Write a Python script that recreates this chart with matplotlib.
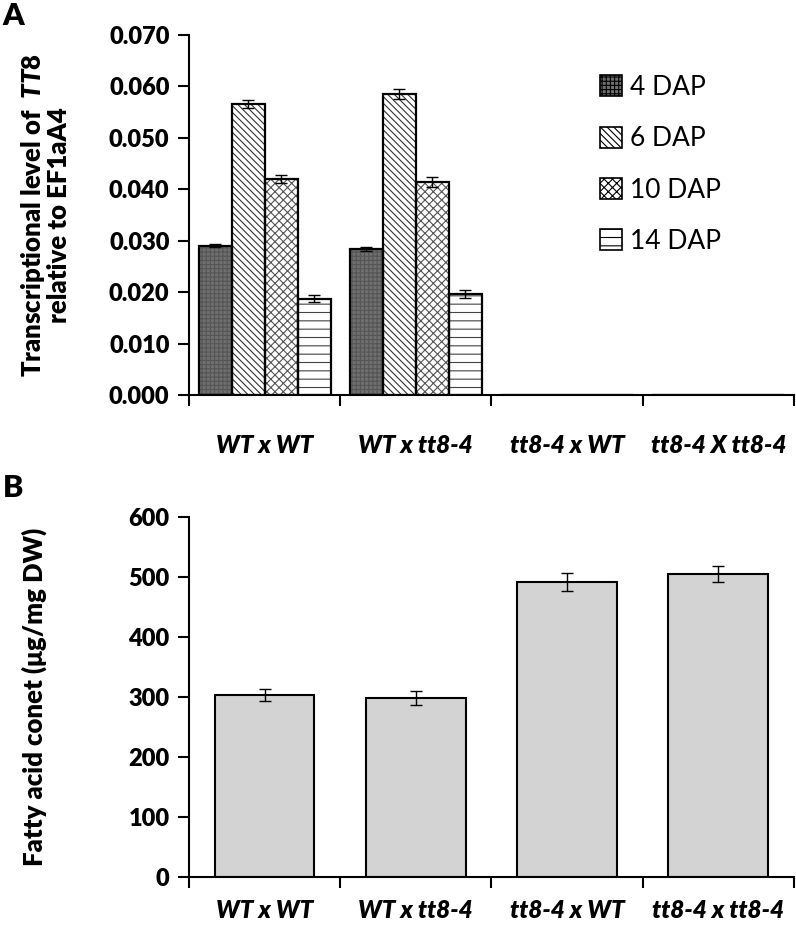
import matplotlib
matplotlib.use("Agg")
import matplotlib.pyplot as plt
import numpy as np
from matplotlib.patches import Patch

plt.rcParams["font.family"] = ["Lato", "DejaVu Sans"]
plt.rcParams["mathtext.fontset"] = "custom"
plt.rcParams["mathtext.it"] = "Lato:heavy:italic"
plt.rcParams["mathtext.rm"] = "Lato:heavy"
plt.rcParams["hatch.linewidth"] = 0.8

# Panel A: TT8 transcript level
crosses_a = ["WT x WT", "WT x tt8-4", "tt8-4 x WT", "tt8-4 X tt8-4"]
stages = ["4 DAP", "6 DAP", "10 DAP", "14 DAP"]
tt8_level = {
    "4 DAP": [0.0290, 0.0283, 0.0001, 0.0001],
    "6 DAP": [0.0565, 0.0585, 0.0001, 0.0001],
    "10 DAP": [0.0420, 0.0414, 0.0001, 0.0001],
    "14 DAP": [0.0187, 0.0196, 0.0001, 0.0001],
}
tt8_err = {
    "4 DAP": [0.0003, 0.0004, 0.0, 0.0],
    "6 DAP": [0.0008, 0.0009, 0.0, 0.0],
    "10 DAP": [0.0007, 0.0009, 0.0, 0.0],
    "14 DAP": [0.0007, 0.0008, 0.0, 0.0],
}

# Panel B: fatty acid content
crosses_b = ["WT x WT", "WT x tt8-4", "tt8-4 x WT", "tt8-4 x tt8-4"]
fatty_acid = [303, 298, 491, 505]
fatty_acid_err = [10, 12, 15, 14]

stage_style = {
    "4 DAP": dict(facecolor="#6f6f6f", hatch="++++", edgecolor="#555555"),
    "6 DAP": dict(facecolor="white", hatch="\\\\\\\\\\", edgecolor="#333333"),
    "10 DAP": dict(facecolor="white", hatch="xxxx", edgecolor="#555555"),
    "14 DAP": dict(facecolor="white", hatch="--", edgecolor="#444444"),
}

TICK_FS = 17
XLAB_FS = 17.5
YLAB_FS = 18.5
W = "heavy"

fig = plt.figure(figsize=(7.96, 9.33), dpi=100)


def style_axes(a, pad_minor):
    a.tick_params(axis="x", which="major", direction="out", length=8, width=1.5)
    a.tick_params(axis="x", which="minor", length=0, pad=pad_minor)
    a.tick_params(axis="y", direction="out", length=8, width=1.5,
                  labelsize=TICK_FS, pad=6)
    for lbl in a.get_yticklabels():
        lbl.set_fontweight(W)
    for side in ("top", "right"):
        a.spines[side].set_visible(False)
    for side in ("left", "bottom"):
        a.spines[side].set_linewidth(1.5)


# ---- Panel A ----
ax = fig.add_axes([0.2374, 0.5766, 0.76, 0.386])
n = len(crosses_a)
x = np.arange(n)
bar_w = 0.218
for i, stage in enumerate(stages):
    pos = x + (i - 1.5) * bar_w
    st = stage_style[stage]
    ax.bar(pos, tt8_level[stage], width=bar_w, facecolor=st["facecolor"],
           hatch=st["hatch"], edgecolor=st["edgecolor"], linewidth=0, zorder=2)
    ax.bar(pos, tt8_level[stage], width=bar_w, facecolor="none",
           edgecolor="black", linewidth=1.6, zorder=3)
    ax.errorbar(pos, tt8_level[stage], yerr=tt8_err[stage], fmt="none",
                ecolor="black", elinewidth=1, capsize=4, capthick=1, zorder=4)

ax.set_xlim(-0.5, n - 0.5)
ax.set_ylim(0, 0.070)
yt = np.arange(0, 0.0701, 0.010)
ax.set_yticks(yt)
ax.set_yticklabels([f"{v:.3f}" for v in yt])
ax.set_xticks(np.arange(-0.5, n, 1.0))
ax.set_xticklabels([])
ax.set_xticks(x, minor=True)
ax.set_xticklabels(crosses_a, minor=True, fontstyle="italic", fontweight=W,
                   fontsize=XLAB_FS)
style_axes(ax, 28)
ax.set_ylabel("Transcriptional level of  $\\mathit{TT8}$\nrelative to EF1aA4",
              fontsize=YLAB_FS, fontweight=W, linespacing=1.0)
ax.yaxis.set_label_coords(-0.195, 0.5)

handles = []
for stage in stages:
    st = stage_style[stage]
    handles.append(Patch(facecolor=st["facecolor"], hatch=st["hatch"],
                         edgecolor="black", linewidth=1.2, label=stage))
ax.legend(handles=handles, loc="upper left", bbox_to_anchor=(0.64, 0.955),
          frameon=False, fontsize=19, labelspacing=1.0, handlelength=0.85,
          handleheight=0.85, handletextpad=0.3)

fig.text(0.003, 0.998, "A", fontsize=22, fontweight=W, va="top")

# ---- Panel B ----
bx = fig.add_axes([0.2374, 0.06, 0.76, 0.3859])
xb = np.arange(len(crosses_b))
bx.bar(xb, fatty_acid, width=0.66, color="#d3d3d3", edgecolor="black",
       linewidth=1.5, zorder=2)
bx.errorbar(xb, fatty_acid, yerr=fatty_acid_err, fmt="none", ecolor="black",
            elinewidth=1, capsize=4, capthick=1, zorder=3)
bx.set_xlim(-0.5, len(crosses_b) - 0.5)
bx.set_ylim(0, 600)
bx.set_yticks(np.arange(0, 601, 100))
bx.set_xticks(np.arange(-0.5, len(crosses_b), 1.0))
bx.set_xticklabels([])
bx.set_xticks(xb, minor=True)
bx.set_xticklabels(crosses_b, minor=True, fontstyle="italic", fontweight=W,
                   fontsize=XLAB_FS)
style_axes(bx, 16)
bx.set_ylabel("Fatty acid conet (\u03bcg/mg DW)", fontsize=YLAB_FS, fontweight=W)
bx.yaxis.set_label_coords(-0.235, 0.5)

fig.text(0.003, 0.492, "B", fontsize=22, fontweight=W, va="top")

fig.savefig("out.png", dpi=100, facecolor="white")
